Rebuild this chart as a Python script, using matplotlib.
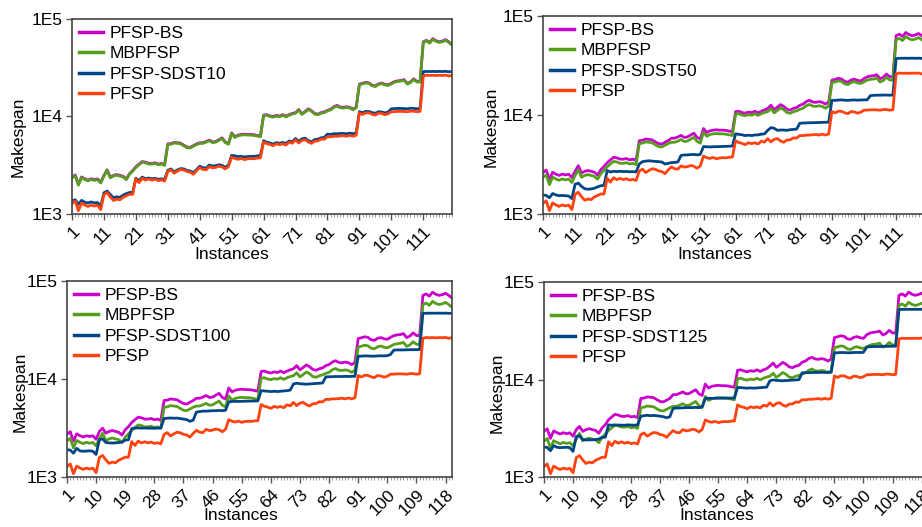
import matplotlib
matplotlib.use("Agg")
import matplotlib.pyplot as plt
from matplotlib.ticker import FixedLocator, FixedFormatter, NullFormatter

plt.rcParams['font.family'] = ['Liberation Sans', 'DejaVu Sans']

instances = list(range(1, 121))

# Taillard instances ta001-ta120, makespans per benchmark group of 10
PFSP = [
    1278, 1359, 1081, 1293, 1235, 1195, 1234, 1206, 1230, 1108,
    1582, 1659, 1496, 1377, 1419, 1397, 1484, 1538, 1593, 1591,
    2297, 2099, 2326, 2223, 2291, 2226, 2273, 2200, 2237, 2178,
    2724, 2834, 2621, 2751, 2863, 2829, 2725, 2683, 2552, 2782,
    2991, 2867, 2839, 3063, 2976, 3006, 3093, 3037, 2897, 3065,
    3850, 3704, 3640, 3723, 3611, 3681, 3704, 3691, 3743, 3756,
    5493, 5268, 5175, 5014, 5250, 5135, 5246, 5094, 5448, 5322,
    5770, 5349, 5676, 5781, 5467, 5303, 5595, 5617, 5871, 5845,
    6202, 6183, 6271, 6269, 6314, 6364, 6268, 6401, 6275, 6434,
    10862, 10480, 10922, 10889, 10524, 10329, 10854, 10730, 10438, 10675,
    11195, 11203, 11281, 11275, 11259, 11176, 11360, 11334, 11192, 11288,
    26040, 26520, 26371, 26456, 26334, 26477, 26389, 26560, 26005, 26457,
]

MBPFSP = [
    2340, 2480, 1980, 2360, 2260, 2190, 2260, 2210, 2250, 2080,
    2450, 2800, 2350, 2450, 2500, 2450, 2400, 2250, 2550, 2750,
    3000, 3200, 3400, 3350, 3250, 3250, 3300, 3200, 3250, 3150,
    5150, 5200, 5350, 5300, 5250, 5000, 4800, 4750, 4950, 5150,
    5300, 5300, 5450, 5650, 5400, 5450, 5700, 5950, 5400, 5200,
    6700, 6100, 6350, 6450, 6500, 6450, 6450, 6400, 6300, 6200,
    10200, 10300, 10000, 9850, 10100, 9950, 10300, 9900, 10300, 10600,
    10800, 11600, 10500, 11100, 11800, 11300, 10600, 10400, 10800, 11000,
    11400, 11700, 12400, 12800, 12300, 12200, 12400, 12200, 11700, 12300,
    21200, 21600, 22100, 21800, 20600, 20300, 21300, 21700, 21100, 20800,
    21600, 22500, 22900, 23100, 23600, 21500, 22300, 24000, 22600, 22500,
    57500, 59500, 56500, 62000, 59000, 57500, 58500, 60500, 57500, 54000,
]

PFSP_BS_10 = [
    2380, 2520, 2010, 2400, 2300, 2220, 2300, 2250, 2290, 2110,
    2490, 2840, 2390, 2490, 2540, 2490, 2440, 2290, 2590, 2790,
    3050, 3250, 3450, 3400, 3300, 3300, 3350, 3250, 3300, 3200,
    5230, 5280, 5430, 5380, 5330, 5080, 4870, 4820, 5020, 5230,
    5380, 5380, 5530, 5730, 5480, 5530, 5790, 6040, 5480, 5280,
    6800, 6190, 6450, 6550, 6600, 6550, 6550, 6500, 6400, 6290,
    10350, 10450, 10150, 10000, 10250, 10100, 10450, 10050, 10450, 10750,
    10950, 11800, 10650, 11250, 12000, 11450, 10750, 10550, 10950, 11150,
    11550, 11900, 12600, 13000, 12500, 12400, 12600, 12400, 11900, 12500,
    21500, 21900, 22400, 22100, 20900, 20600, 21600, 22000, 21400, 21100,
    21900, 22800, 23200, 23400, 23900, 21800, 22600, 24350, 22900, 22800,
    58300, 60400, 57300, 62900, 59900, 58300, 59400, 61400, 58300, 54800,
]

PFSP_BS_50 = [
    2620, 2780, 2220, 2640, 2530, 2450, 2530, 2480, 2520, 2330,
    2700, 3080, 2590, 2700, 2750, 2700, 2640, 2480, 2800, 3030,
    3300, 3520, 3740, 3690, 3580, 3580, 3630, 3520, 3580, 3470,
    5510, 5560, 5720, 5670, 5620, 5350, 5140, 5080, 5300, 5510,
    5830, 5830, 6000, 6220, 5940, 6000, 6270, 6550, 5940, 5720,
    7300, 6650, 6920, 7030, 7090, 7030, 7030, 6980, 6870, 6760,
    10810, 10920, 10600, 10440, 10710, 10550, 10920, 10490, 10920, 11240,
    11660, 12530, 11340, 11990, 12740, 12200, 11450, 11230, 11660, 11880,
    12540, 12870, 13640, 14080, 13530, 13420, 13640, 13420, 12870, 13530,
    22470, 22900, 23430, 23110, 21840, 21520, 22580, 23000, 22370, 22050,
    23330, 24300, 24730, 24950, 25490, 23220, 24080, 25920, 24410, 24300,
    63250, 65450, 62150, 68200, 64900, 63250, 64350, 66550, 63250, 59400,
]

PFSP_BS_100 = [
    2740, 2900, 2320, 2760, 2640, 2560, 2640, 2590, 2630, 2430,
    2920, 3150, 2800, 2920, 2980, 2920, 2860, 2680, 3030, 3270,
    3600, 3840, 4080, 4020, 3900, 3900, 3960, 3840, 3900, 3780,
    6030, 6080, 6260, 6200, 6140, 5850, 5620, 5560, 5790, 6030,
    6360, 6360, 6540, 6780, 6480, 6540, 6840, 7140, 6480, 6240,
    8110, 7380, 7680, 7800, 7870, 7800, 7800, 7740, 7620, 7500,
    11930, 12050, 11700, 11520, 11820, 11640, 12050, 11580, 12050, 12400,
    12740, 13690, 12390, 13100, 13920, 13330, 12510, 12270, 12740, 12980,
    13680, 14040, 14880, 15360, 14760, 14640, 14880, 14640, 14040, 14760,
    25860, 26350, 26960, 26600, 25130, 24770, 25990, 26470, 25740, 25380,
    26570, 27680, 28170, 28410, 29030, 26450, 27430, 29520, 27800, 27680,
    71300, 73780, 70060, 76880, 73160, 71300, 72540, 75020, 71300, 66960,
]

PFSP_BS_125 = [
    2950, 3120, 2490, 2970, 2850, 2760, 2850, 2780, 2840, 2620,
    3060, 3300, 2940, 3060, 3130, 3060, 3000, 2810, 3190, 3440,
    3870, 4130, 4390, 4320, 4190, 4190, 4260, 4130, 4190, 4060,
    6390, 6450, 6630, 6570, 6510, 6200, 5950, 5890, 6140, 6390,
    7000, 7000, 7190, 7460, 7130, 7190, 7520, 7850, 7130, 6860,
    8980, 8170, 8510, 8640, 8710, 8640, 8640, 8580, 8440, 8310,
    12440, 12570, 12200, 12020, 12320, 12140, 12570, 12080, 12570, 12930,
    13720, 14730, 13340, 14100, 14990, 14350, 13460, 13210, 13720, 13970,
    15050, 15440, 16370, 16900, 16240, 16100, 16370, 16100, 15440, 16240,
    26920, 27430, 28070, 27690, 26160, 25780, 27050, 27560, 26800, 26420,
    28730, 29930, 30460, 30720, 31390, 28600, 29660, 31920, 30060, 29930,
    73030, 75570, 71760, 78740, 74930, 73030, 74300, 76840, 73030, 68580,
]

PFSP_SDST10 = [
    1360, 1400, 1260, 1380, 1320, 1300, 1330, 1300, 1310, 1200,
    1650, 1720, 1580, 1470, 1500, 1480, 1560, 1620, 1660, 1670,
    2330, 2200, 2390, 2300, 2340, 2300, 2320, 2270, 2290, 2260,
    2800, 2900, 2700, 2830, 2920, 2900, 2800, 2760, 2650, 2850,
    3090, 2990, 2950, 3180, 3100, 3130, 3200, 3150, 3010, 3170,
    4000, 3950, 3880, 3900, 3850, 3880, 3900, 3900, 3950, 3980,
    5650, 5450, 5350, 5200, 5400, 5300, 5420, 5300, 5600, 5500,
    5950, 5550, 5900, 6000, 5650, 5500, 5800, 5850, 6050, 6100,
    6600, 6550, 6650, 6650, 6700, 6700, 6650, 6750, 6650, 6800,
    11200, 10950, 11300, 11250, 10950, 10800, 11200, 11100, 10900, 11100,
    12000, 12050, 12100, 12100, 12050, 12000, 12150, 12100, 12000, 12100,
    28800, 29000, 28900, 29000, 28900, 29000, 28900, 29100, 28700, 29000,
]

PFSP_SDST50 = [
    1560, 1540, 1460, 1610, 1560, 1530, 1540, 1530, 1520, 1430,
    2000, 2050, 1900, 1800, 1780, 1790, 1820, 1880, 1930, 1950,
    2750, 2650, 2700, 2680, 2700, 2680, 2690, 2670, 2680, 2660,
    3200, 3380, 3420, 3450, 3420, 3400, 3380, 3350, 3200, 3250,
    3300, 3320, 3350, 3900, 3950, 3950, 3980, 4000, 3950, 4000,
    4800, 4780, 4760, 4780, 4790, 4800, 4810, 4820, 4840, 4850,
    6450, 6380, 6300, 6200, 6250, 6200, 6280, 6300, 6400, 6450,
    7000, 7450, 7350, 7000, 7050, 7050, 7000, 7100, 7150, 7200,
    8250, 8300, 8320, 8350, 8360, 8380, 8400, 8420, 8450, 8450,
    14100, 14050, 14150, 14200, 14100, 14050, 14150, 14200, 14100, 14200,
    14200, 14250, 15700, 15800, 15850, 15850, 15900, 15900, 15850, 15900,
    37200, 37400, 37400, 37500, 37400, 37500, 37400, 37500, 37300, 37300,
]

PFSP_SDST100 = [
    1900, 1880, 1750, 1960, 1850, 1830, 1840, 1850, 1830, 1700,
    2400, 2450, 2250, 2230, 2220, 2230, 2250, 2270, 2380, 2400,
    3120, 3150, 3170, 3150, 3160, 3150, 3150, 3140, 3150, 3160,
    3950, 3980, 4000, 3980, 3990, 3950, 3900, 3850, 3700, 3800,
    4600, 4650, 4700, 4700, 4720, 4750, 4750, 4780, 4750, 4800,
    5850, 5900, 5920, 5900, 5920, 5930, 5950, 5950, 5960, 5980,
    7600, 7550, 7500, 7450, 7500, 7450, 7500, 7550, 7600, 7700,
    8900, 9050, 8950, 8900, 8850, 8900, 8950, 9000, 9050, 9100,
    10500, 10550, 10550, 10600, 10600, 10600, 10650, 10600, 10650, 10650,
    17100, 17100, 17200, 17200, 17100, 17100, 17200, 17250, 17200, 17300,
    17800, 19700, 19800, 19800, 19800, 19850, 19900, 19900, 19950, 19950,
    46800, 46900, 46900, 47000, 46900, 47000, 46900, 47000, 46800, 46800,
]

PFSP_SDST125 = [
    2030, 2010, 1860, 2100, 2020, 2000, 2010, 2020, 2000, 1830,
    2600, 2650, 2420, 2400, 2400, 2410, 2420, 2450, 2550, 2560,
    3420, 3400, 3420, 3410, 3400, 3400, 3420, 3410, 3400, 3420,
    4200, 4250, 4300, 4250, 4280, 4250, 4200, 4150, 4050, 4150,
    5050, 5100, 5100, 5120, 5150, 5150, 5150, 5180, 5150, 5200,
    6400, 6420, 6400, 6420, 6430, 6450, 6450, 6460, 6450, 6480,
    8300, 8250, 8200, 8150, 8200, 8150, 8200, 8250, 8300, 8350,
    9700, 9900, 9800, 9750, 9700, 9750, 9800, 9850, 9900, 9950,
    11700, 11750, 11750, 11800, 11800, 11800, 11850, 11800, 11850, 11850,
    18800, 18800, 18900, 18900, 18800, 18800, 18900, 18950, 18900, 19000,
    21500, 21700, 21800, 21800, 21800, 21850, 21900, 21900, 21950, 21950,
    52200, 52400, 52400, 52500, 52400, 52500, 52400, 52500, 52300, 52300,
]

xticks_top = [1, 11, 21, 31, 41, 51, 61, 71, 81, 91, 101, 111]
xticks_bottom = [1, 10, 19, 28, 37, 46, 55, 64, 73, 82, 91, 100, 109, 118]
yticks = [1000, 10000, 100000]
ytick_labels = ["1E3", "1E4", "1E5"]

colors = {"bs": "#cc00cc", "mb": "#579d1c", "sdst": "#004586", "pfsp": "#ff420e"}

W, H = 922, 527
fig = plt.figure(figsize=(W / 100, H / 100), dpi=100)


def px_axes(left, top, right, bottom):
    return fig.add_axes([left / W, 1 - bottom / H, (right - left) / W, (bottom - top) / H])


panels = [
    # (axes box in px, BS series, SDST series, SDST label, xticks, xlabel pos, ylabel pos)
    ((72, 19, 452, 214), PFSP_BS_10, PFSP_SDST10, "PFSP-SDST10", xticks_top, (0.42, -0.21), (-0.141, 0.395)),
    ((543, 16, 925, 214), PFSP_BS_50, PFSP_SDST50, "PFSP-SDST50", xticks_top, (0.45, -0.205), (-0.135, 0.44)),
    ((67, 281, 452, 477), PFSP_BS_100, PFSP_SDST100, "PFSP-SDST100", xticks_bottom, (0.45, -0.195), (-0.122, 0.434)),
    ((544, 282, 928, 477), PFSP_BS_125, PFSP_SDST125, "PFSP-SDST125", xticks_bottom, (0.45, -0.195), (-0.123, 0.433)),
]

for box, bs, sdst, sdst_label, xt, xl_pos, yl_pos in panels:
    ax = px_axes(*box)
    lw = 2.0
    ax.plot(instances, bs, color=colors["bs"], lw=lw, label="PFSP-BS")
    ax.plot(instances, MBPFSP, color=colors["mb"], lw=lw, label="MBPFSP")
    ax.plot(instances, sdst, color=colors["sdst"], lw=lw, label=sdst_label)
    ax.plot(instances, PFSP, color=colors["pfsp"], lw=lw, label="PFSP")

    ax.set_yscale("log")
    ax.set_ylim(1000, 100000)
    ax.set_xlim(1, 120)
    ax.yaxis.set_major_locator(FixedLocator(yticks))
    ax.yaxis.set_major_formatter(FixedFormatter(ytick_labels))
    ax.yaxis.set_minor_locator(FixedLocator([]))
    ax.yaxis.set_minor_formatter(NullFormatter())
    ax.set_xticks(xt)
    ax.set_xticklabels([str(v) for v in xt], rotation=45, ha="right",
                       va="top", rotation_mode="anchor")
    ax.xaxis.set_minor_locator(FixedLocator(instances))
    ax.tick_params(axis="both", which="major", labelsize=12.5, length=4,
                   width=1, color="#555555", pad=3)
    ax.tick_params(axis="x", which="minor", length=2, width=0.6, color="#888888")
    for s in ax.spines.values():
        s.set_color("#444444")
        s.set_linewidth(1.2)

    ax.set_xlabel("Instances", fontsize=12.5)
    ax.xaxis.set_label_coords(*xl_pos)
    ax.xaxis.label.set_va("center")
    ax.set_ylabel("Makespan", fontsize=12.5)
    ax.yaxis.set_label_coords(*yl_pos)
    ax.yaxis.label.set_va("center")

    leg = ax.legend(loc="upper left", frameon=False, fontsize=12.5,
                    handlelength=1.4, handletextpad=0.35, labelspacing=0.3,
                    borderaxespad=0.2, borderpad=0.2)
    for h in leg.get_lines():
        h.set_linewidth(2.5)

fig.savefig("out.png", dpi=100)
